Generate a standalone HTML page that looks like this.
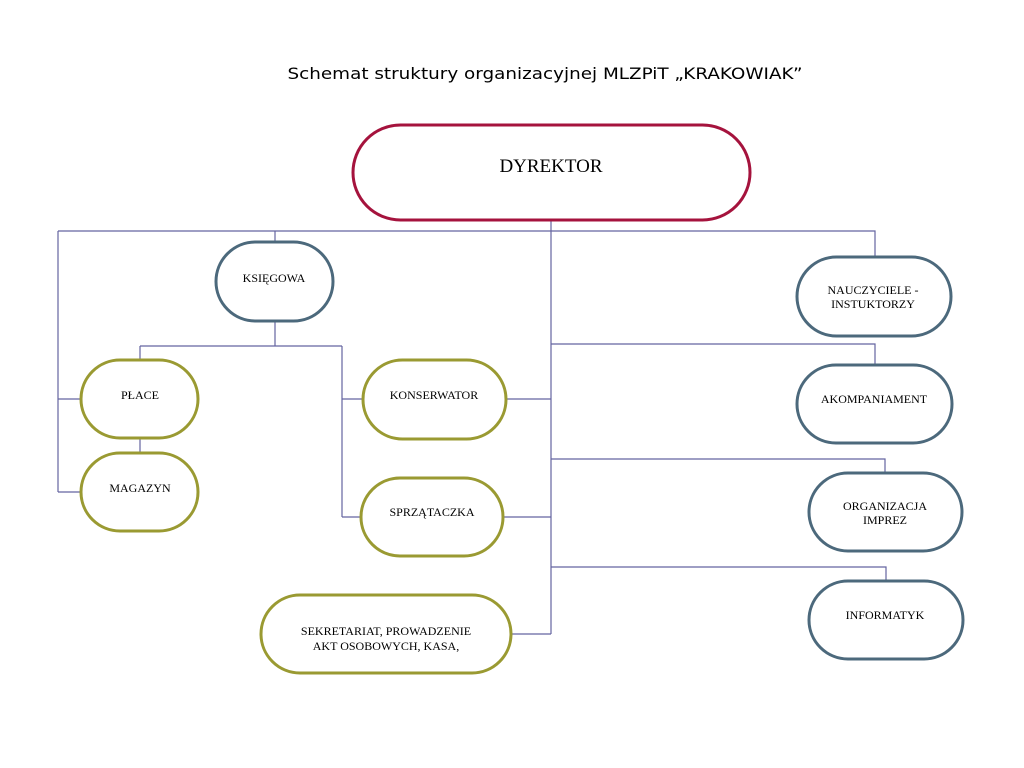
<!DOCTYPE html>
<html><head><meta charset="utf-8"><style>html,body{margin:0;padding:0;background:#fff}</style></head>
<body>
<svg width="1024" height="768" xmlns="http://www.w3.org/2000/svg" style="display:block">
<rect width="1024" height="768" fill="#fff"/>
<text x="545" y="79" text-anchor="middle" font-family="DejaVu Sans, Liberation Sans, sans-serif" font-size="16" textLength="515" lengthAdjust="spacingAndGlyphs">Schemat struktury organizacyjnej MLZPiT „KRAKOWIAK”</text>
<g stroke="#6464a0" stroke-width="1.2" fill="none">
<path d="M58 231H875V257M551 221V634M275 231V242M58 231V492M58 399H81M58 492H81"/>
<path d="M275 321V346M140 346H342M140 346V360M342 346V517M342 399H363M342 517H361M140 438V453"/>
<path d="M506 399H551M503 517H551M511 634H551"/>
<path d="M551 344H875V365M551 459H885V473M551 567H886V581"/>
</g>
<g fill="#fff" stroke-width="3">
<rect x="353" y="125" width="397" height="95" rx="47.5" stroke="#a5133d"/>
<g stroke="#4c697c">
<rect x="216" y="242" width="117" height="79" rx="39.5"/>
<rect x="797" y="257" width="154" height="79" rx="39.5"/>
<rect x="797" y="365" width="155" height="78" rx="39"/>
<rect x="809" y="473" width="153" height="78" rx="39"/>
<rect x="809" y="581" width="154" height="78" rx="39"/>
</g>
<g stroke="#9a9a32">
<rect x="81" y="360" width="117" height="78" rx="39"/>
<rect x="81" y="453" width="117" height="78" rx="39"/>
<rect x="363" y="360" width="143" height="79" rx="39.5"/>
<rect x="361" y="478" width="142" height="78" rx="39"/>
<rect x="261" y="595" width="250" height="78" rx="39"/>
</g>
</g>
<g font-family="Liberation Serif, serif" font-size="12" text-anchor="middle" fill="#000">
<text x="551" y="172" font-size="19">DYREKTOR</text>
<text x="274" y="282">KSIĘGOWA</text>
<text x="140" y="399">PŁACE</text>
<text x="140" y="492">MAGAZYN</text>
<text x="434" y="399">KONSERWATOR</text>
<text x="432" y="516">SPRZĄTACZKA</text>
<text x="386" y="635">SEKRETARIAT, PROWADZENIE</text>
<text x="386" y="650">AKT OSOBOWYCH, KASA,</text>
<text x="873" y="294">NAUCZYCIELE -</text>
<text x="873" y="308">INSTUKTORZY</text>
<text x="874" y="403">AKOMPANIAMENT</text>
<text x="885" y="510">ORGANIZACJA</text>
<text x="885" y="524">IMPREZ</text>
<text x="885" y="619">INFORMATYK</text>
</g>
</svg>
</body></html>
